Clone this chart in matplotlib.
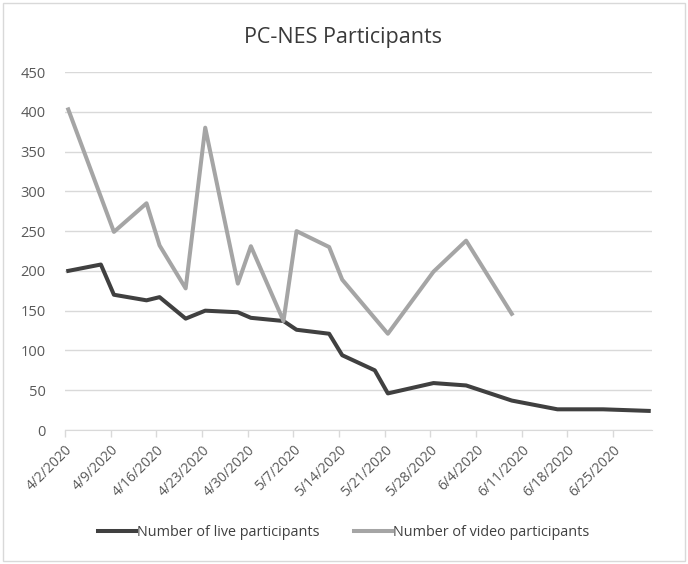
import datetime as dt
import numpy as np
import matplotlib
matplotlib.use('Agg')
import matplotlib.pyplot as plt
import matplotlib.dates as mdates

# meeting dates (2020) and participant counts
dates = ['4/2', '4/7', '4/9', '4/14', '4/16', '4/20', '4/23', '4/28', '4/30',
         '5/5', '5/7', '5/12', '5/14', '5/19', '5/21', '5/28', '6/2', '6/9',
         '6/16', '6/23', '6/30']
live = [200, 208, 170, 163, 167, 140, 150, 148, 141,
        137, 126, 121, 94, 75, 46, 59, 56, 37,
        26, 26, 24]
video = [403, None, 249, 285, 232, 178, 380, 184, 231,
         137, 250, 230, 189, None, 121, 199, 238, 146,
         None, None, None]

title = 'PC-NES Participants'
live_label = 'Number of live participants'
video_label = 'Number of video participants'

plt.rcParams['font.family'] = ['Open Sans', 'DejaVu Sans']

def to_date(s):
    m, d = s.split('/')
    return dt.datetime(2020, int(m), int(d))

x = np.array([mdates.date2num(to_date(s)) for s in dates]) + 0.5  # points sit mid-day
v = np.array([np.nan if val is None else val for val in video], dtype=float)
ok = ~np.isnan(v)

fig = plt.figure(figsize=(6.88, 5.64), dpi=100)
ax = fig.add_axes([65 / 688, 1 - 430 / 564, (652 - 65) / 688, (430 - 72) / 564])

ax.plot(x, live, color='#404040', lw=2.9, solid_joinstyle='round', label=live_label, zorder=3)
ax.plot(x[ok], v[ok], color='#a5a5a5', lw=2.9, solid_joinstyle='round', label=video_label, zorder=3)

start = mdates.date2num(dt.datetime(2020, 4, 2))
ax.set_xlim(start, start + 90)
ax.set_ylim(0, 450)

ticks = [start + 7 * k for k in range(13)]
ax.set_xticks(ticks)
labels = []
for t in ticks:
    d = mdates.num2date(t)
    labels.append(f'{d.month}/{d.day}/{d.year}')
ax.set_xticklabels(labels, rotation=45, ha='right', rotation_mode='anchor',
                   fontsize=10, color='#595959')

ax.set_yticks(range(0, 451, 50))
ax.tick_params(axis='y', length=0, pad=14, labelsize=10.5, labelcolor='#595959')
ax.tick_params(axis='x', length=5, width=1, color='#d9d9d9', pad=4)
ax.grid(axis='y', color='#d9d9d9', lw=1)
ax.set_axisbelow(True)
for side in ['top', 'right', 'left']:
    ax.spines[side].set_visible(False)
ax.spines['bottom'].set_color('#d9d9d9')

fig.text(343 / 688, 1 - 37 / 564, title, ha='center', va='center',
         fontsize=15.5, color='#3a3a3a')

fig.legend(loc='center', bbox_to_anchor=(344 / 688, 1 - 533 / 564), ncol=2,
           frameon=False, fontsize=10.4, labelcolor='#404040',
           handlelength=2.6, handletextpad=0.1, columnspacing=2.4)

# chart border
fig.patches.append(plt.Rectangle((3 / 688, 3 / 564), 682 / 688, 558 / 564,
                                 transform=fig.transFigure, fill=False,
                                 edgecolor='#d9d9d9', lw=1))

fig.savefig('out.png', dpi=100)
